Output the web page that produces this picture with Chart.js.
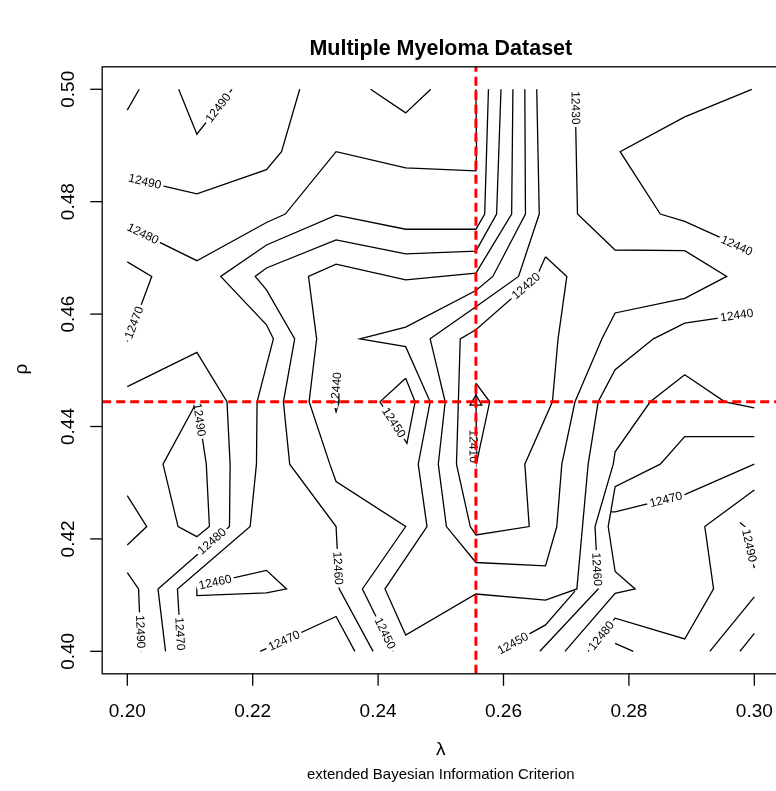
<!DOCTYPE html>
<html>
<head>
<meta charset="utf-8">
<title>Multiple Myeloma Dataset</title>
<script src="https://cdn.jsdelivr.net/npm/chart.js@4.4.1/dist/chart.umd.min.js"></script>
<style>
  html, body { margin: 0; padding: 0; background: #fff; overflow: hidden; width: 776px; height: 791px; }
  canvas { display: block; }
</style>
</head>
<body>
<!-- a bit wider than the window: the right side of the R frame falls just off the picture -->
<canvas id="bicChart" width="782" height="791" style="width:782px;height:791px"></canvas>
<script>
// tick labels
const lambdaTicks = [0.20, 0.22, 0.24, 0.26, 0.28, 0.30];
const rhoTicks = [0.40, 0.42, 0.44, 0.46, 0.48, 0.50];

// selected tuning pair (red guide lines + triangle)
const bestLambda = 0.2556;
const bestRho = 0.4444;

// contour lines of the BIC surface, [lambda, rho] vertices
const cCorner = [[0.2000, 0.4963], [0.2019, 0.5000]];
const c12490a = [[0.2082, 0.5000], [0.2111, 0.4920], [0.2167, 0.5000]];
const c12490b = [[0.2000, 0.4843], [0.2111, 0.4814], [0.2222, 0.4857], [0.2246, 0.4889], [0.2275, 0.5000]];
const c12480a = [[0.2000, 0.4756], [0.2111, 0.4695], [0.2222, 0.4763], [0.2252, 0.4778], [0.2333, 0.4889],
                 [0.2444, 0.4860], [0.2556, 0.4855], [0.2557, 0.4889], [0.2556, 0.5000]];
const c12470a = [[0.2000, 0.4693], [0.2039, 0.4667], [0.2023, 0.4619], [0.2000, 0.4551]];
const c12480b = [[0.2000, 0.4471], [0.2111, 0.4532], [0.2159, 0.4444], [0.2164, 0.4333], [0.2163, 0.4222],
                 [0.2049, 0.4111], [0.2061, 0.4000]];
const c12490c = [[0.2111, 0.4444], [0.2057, 0.4333], [0.2081, 0.4222], [0.2111, 0.4204], [0.2131, 0.4222],
                 [0.2126, 0.4333], [0.2111, 0.4444]];
const c12500 = [[0.2000, 0.4277], [0.2031, 0.4222], [0.2000, 0.4189]];
const c12490d = [[0.2000, 0.4140], [0.2018, 0.4111], [0.2022, 0.4000]];
const c12470b = [[0.2576, 0.5000], [0.2570, 0.4778], [0.2556, 0.4751], [0.2444, 0.4751], [0.2333, 0.4776],
                 [0.2222, 0.4723], [0.2149, 0.4667], [0.2222, 0.4581], [0.2233, 0.4556], [0.2207, 0.4444],
                 [0.2206, 0.4333], [0.2196, 0.4222], [0.2080, 0.4111], [0.2086, 0.4000]];
const c12460a = [[0.2596, 0.5000], [0.2589, 0.4778], [0.2556, 0.4712], [0.2444, 0.4707], [0.2333, 0.4732],
                 [0.2222, 0.4682], [0.2204, 0.4667], [0.2222, 0.4643], [0.2267, 0.4556], [0.2249, 0.4444],
                 [0.2259, 0.4333], [0.2333, 0.4222], [0.2338, 0.4111], [0.2392, 0.4000]];
const c12470c = [[0.2212, 0.4000], [0.2333, 0.4062], [0.2363, 0.4000]];
const c12460b = [[0.2111, 0.4116], [0.2111, 0.4099], [0.2222, 0.4104], [0.2254, 0.4111], [0.2222, 0.4144],
                 [0.2111, 0.4116]];
const c12450a = [[0.2615, 0.5000], [0.2613, 0.4778], [0.2556, 0.4673], [0.2444, 0.4661], [0.2333, 0.4689],
                 [0.2289, 0.4667], [0.2302, 0.4556], [0.2290, 0.4444], [0.2323, 0.4333], [0.2333, 0.4302],
                 [0.2444, 0.4222], [0.2375, 0.4111], [0.2424, 0.4000]];
const c12440a = [[0.2634, 0.5000], [0.2635, 0.4778], [0.2583, 0.4667], [0.2556, 0.4642], [0.2444, 0.4577],
                 [0.2371, 0.4556], [0.2444, 0.4542], [0.2483, 0.4444], [0.2464, 0.4333], [0.2478, 0.4222],
                 [0.2411, 0.4111], [0.2444, 0.4029], [0.2556, 0.4102], [0.2667, 0.4091], [0.2717, 0.4111],
                 [0.2726, 0.4222], [0.2735, 0.4333], [0.2751, 0.4444], [0.2778, 0.4501], [0.2839, 0.4556],
                 [0.2889, 0.4584], [0.3000, 0.4602]];
const c12430 = [[0.2714, 0.5000], [0.2718, 0.4778], [0.2778, 0.4714], [0.2889, 0.4713], [0.2956, 0.4667],
                [0.2889, 0.4628], [0.2778, 0.4602], [0.2757, 0.4556], [0.2714, 0.4444], [0.2693, 0.4333],
                [0.2685, 0.4222], [0.2667, 0.4152], [0.2556, 0.4158], [0.2509, 0.4222], [0.2496, 0.4333],
                [0.2507, 0.4444], [0.2483, 0.4556], [0.2556, 0.4613], [0.2624, 0.4667], [0.2657, 0.4778],
                [0.2653, 0.5000]];
const c12420 = [[0.2667, 0.4702], [0.2701, 0.4667], [0.2687, 0.4556], [0.2678, 0.4444], [0.2634, 0.4333],
                [0.2641, 0.4222], [0.2556, 0.4207], [0.2547, 0.4222], [0.2525, 0.4333], [0.2528, 0.4444],
                [0.2531, 0.4556], [0.2556, 0.4572], [0.2653, 0.4667], [0.2667, 0.4702]];
const c12410 = [[0.2556, 0.4477], [0.2578, 0.4444], [0.2557, 0.4335], [0.2556, 0.4477]];
const c12440b = [[0.2333, 0.4501], [0.2338, 0.4444], [0.2333, 0.4426], [0.2329, 0.4444], [0.2333, 0.4501]];
const c12450b = [[0.2444, 0.4486], [0.2403, 0.4444], [0.2446, 0.4370], [0.2459, 0.4444], [0.2444, 0.4486]];
const cTopV = [[0.2388, 0.5000], [0.2444, 0.4958], [0.2484, 0.5000]];
const c12440c = [[0.2996, 0.5000], [0.2889, 0.4951], [0.2786, 0.4889], [0.2850, 0.4778], [0.2889, 0.4765],
                 [0.3000, 0.4709]];
const c12460c = [[0.3000, 0.4433], [0.2953, 0.4444], [0.2889, 0.4492], [0.2834, 0.4444], [0.2778, 0.4355],
                 [0.2775, 0.4333], [0.2746, 0.4222], [0.2751, 0.4111], [0.2658, 0.4000]];
const c12470d = [[0.3000, 0.4382], [0.2889, 0.4382], [0.2850, 0.4333], [0.2778, 0.4293], [0.2767, 0.4222],
                 [0.2778, 0.4142], [0.2810, 0.4111], [0.2778, 0.4103], [0.2698, 0.4000]];
const c12470e = [[0.3000, 0.4333], [0.2889, 0.4279], [0.2778, 0.4248], [0.2771, 0.4248]];
const c12480c = [[0.3000, 0.4287], [0.2921, 0.4222], [0.2935, 0.4111], [0.2889, 0.4022], [0.2778, 0.4059],
                 [0.2735, 0.4000]];
const c12490e = [[0.2977, 0.4229], [0.2985, 0.4222], [0.3000, 0.4148]];
const cEdge1 = [[0.2929, 0.4000], [0.3000, 0.4097]];
const cEdge2 = [[0.2977, 0.4000], [0.3000, 0.4032]];
const cEdge3 = [[0.2778, 0.4014], [0.2807, 0.4000]];
const c12450c = [[0.2591, 0.4000], [0.2667, 0.4047], [0.2714, 0.4107]];

// level, vertices, label anchor (lambda, rho) or null
const contourLines = [
  [null, cCorner, null],
  [12490, c12490a, [0.2145, 0.4967]],
  [12490, c12490b, [0.2028, 0.4836]],
  [12480, c12480a, [0.2025, 0.4743]],
  [12470, c12470a, [0.2011, 0.4585]],
  [12480, c12480b, [0.2135, 0.4196]],
  [12490, c12490c, [0.2115, 0.4412]],
  [null, c12500, null],
  [12490, c12490d, [0.2021, 0.4035]],
  [12470, c12470b, [0.2084, 0.4031]],
  [12460, c12460a, [0.2336, 0.4148]],
  [12470, c12470c, [0.2250, 0.4019]],
  [12460, c12460b, [0.2140, 0.4123]],
  [12450, c12450a, [0.2411, 0.4032]],
  [12440, c12440a, [0.2972, 0.4598]],
  [12430, c12430, [0.2715, 0.4967]],
  [12420, c12420, [0.2636, 0.4650]],
  [12410, c12410, [0.2552, 0.4365]],
  [12440, c12440b, [0.2333, 0.4467]],
  [12450, c12450b, [0.2425, 0.4407]],
  [null, cTopV, null],
  [12440, c12440c, [0.2972, 0.4722]],
  [12460, c12460c, [0.2749, 0.4146]],
  [null, c12470d, null],
  [12470, c12470e, [0.2859, 0.4270]],
  [12480, c12480c, [0.2756, 0.4028]],
  [12490, c12490e, [0.2992, 0.4188]],
  [null, cEdge1, null],
  [null, cEdge2, null],
  [null, cEdge3, null],
  [12450, c12450c, [0.2615, 0.4014]]
];

const FONT = '"Liberation Sans", Arial, Helvetica, sans-serif';
const firstContour = 3;

function segDist(px, py, ax, ay, bx, by) {
  const dx = bx - ax, dy = by - ay;
  const len2 = dx * dx + dy * dy || 1;
  let t = ((px - ax) * dx + (py - ay) * dy) / len2;
  t = Math.max(0, Math.min(1, t));
  const qx = ax + t * dx, qy = ay + t * dy;
  return Math.hypot(px - qx, py - qy);
}

// contour labels, drawn right after the contour lines (under the red lines)
const contourLabels = {
  id: 'contourLabels',
  afterDatasetDraw(chart, args) {
    if (args.index !== firstContour) return;
    const { ctx, chartArea: a, scales: { x, y } } = chart;
    ctx.save();
    ctx.beginPath();
    ctx.rect(a.left, a.top, a.right - a.left, a.bottom - a.top);
    ctx.clip();
    ctx.font = '12px ' + FONT;
    ctx.textAlign = 'center';
    ctx.textBaseline = 'middle';
    contourLines.forEach(([level, pts, lab]) => {
      if (!lab) return;
      const px = x.getPixelForValue(lab[0]);
      const py = y.getPixelForValue(lab[1]);
      let best = Infinity, ang = 0;
      for (let i = 1; i < pts.length; i++) {
        const ax = x.getPixelForValue(pts[i - 1][0]), ay = y.getPixelForValue(pts[i - 1][1]);
        const bx = x.getPixelForValue(pts[i][0]), by = y.getPixelForValue(pts[i][1]);
        const d = segDist(px, py, ax, ay, bx, by);
        if (d < best) { best = d; ang = Math.atan2(by - ay, bx - ax); }
      }
      if (ang > Math.PI / 2) ang -= Math.PI;
      if (ang <= -Math.PI / 2) ang += Math.PI;
      const text = String(level);
      const w = ctx.measureText(text).width;
      ctx.save();
      ctx.translate(px, py);
      ctx.rotate(ang);
      ctx.fillStyle = '#fff';
      ctx.fillRect(-w / 2 - 2.5, -3, w + 5, 6);
      ctx.fillStyle = '#000';
      ctx.fillText(text, 0, 0.5);
      ctx.restore();
    });
    ctx.restore();
  }
};

// R style frame, ticks, and titles
const rAxes = {
  id: 'rAxes',
  afterDraw(chart) {
    const { ctx, chartArea: a, scales: { x, y } } = chart;
    const cx = (a.left + a.right) / 2;
    ctx.save();
    ctx.strokeStyle = '#000';
    ctx.fillStyle = '#000';
    ctx.lineWidth = 1.3;
    ctx.strokeRect(a.left, a.top, a.right - a.left, a.bottom - a.top);

    ctx.font = '19px ' + FONT;
    ctx.textAlign = 'center';
    ctx.textBaseline = 'alphabetic';
    lambdaTicks.forEach(v => {
      const px = x.getPixelForValue(v);
      ctx.beginPath();
      ctx.moveTo(px, a.bottom);
      ctx.lineTo(px, a.bottom + 12);
      ctx.stroke();
      ctx.fillText(v.toFixed(2), px, a.bottom + 42.7);
    });
    rhoTicks.forEach(v => {
      const py = y.getPixelForValue(v);
      ctx.beginPath();
      ctx.moveTo(a.left, py);
      ctx.lineTo(a.left - 12, py);
      ctx.stroke();
      ctx.save();
      ctx.translate(a.left - 28.7, py);
      ctx.rotate(-Math.PI / 2);
      ctx.fillText(v.toFixed(2), 0, 0);
      ctx.restore();
    });

    ctx.fillText('\u03bb', cx, 754.8);
    ctx.save();
    ctx.translate(27, 369);
    ctx.rotate(-Math.PI / 2);
    ctx.fillText('\u03c1', 0, 0);
    ctx.restore();

    ctx.font = '15px ' + FONT;
    ctx.fillText('extended Bayesian Information Criterion', cx, 778.5);

    ctx.font = 'bold 21.5px ' + FONT;
    ctx.fillText('Multiple Myeloma Dataset', cx, 54.5);
    ctx.restore();
  }
};

const toXY = pts => pts.map(p => ({ x: p[0], y: p[1] }));

const datasets = [
  {
    label: 'lambda',
    data: [{ x: bestLambda, y: 0.396 }, { x: bestLambda, y: 0.504 }],
    showLine: true, borderColor: '#ff0000', borderWidth: 3, borderDash: [9, 5],
    pointRadius: 0
  },
  {
    label: 'rho',
    data: [{ x: 0.196, y: bestRho }, { x: 0.304, y: bestRho }],
    showLine: true, borderColor: '#ff0000', borderWidth: 3, borderDash: [9, 5],
    pointRadius: 0
  },
  {
    label: 'selected',
    data: [{ x: bestLambda, y: bestRho }],
    showLine: false, pointStyle: 'triangle', pointRadius: 6.75,
    pointBorderColor: '#000', pointBackgroundColor: 'rgba(0,0,0,0)', pointBorderWidth: 1.3
  }
].concat(contourLines.map(([level, pts]) => ({
  label: level ? String(level) : 'contour',
  data: toXY(pts),
  showLine: true, borderColor: '#000', borderWidth: 1.3, tension: 0,
  pointRadius: 0, fill: false
})));

new Chart(document.getElementById('bicChart'), {
  type: 'scatter',
  data: { datasets: datasets },
  options: {
    responsive: false,
    animation: false,
    events: [],
    layout: { autoPadding: false, padding: { left: 102.2, right: 2.6, top: 66.8, bottom: 117.2 } },
    plugins: { legend: { display: false }, tooltip: { enabled: false }, title: { display: false } },
    scales: {
      x: { type: 'linear', min: 0.196, max: 0.304, display: false },
      y: { type: 'linear', min: 0.396, max: 0.504, display: false }
    }
  },
  plugins: [contourLabels, rAxes]
});
</script>
</body>
</html>
